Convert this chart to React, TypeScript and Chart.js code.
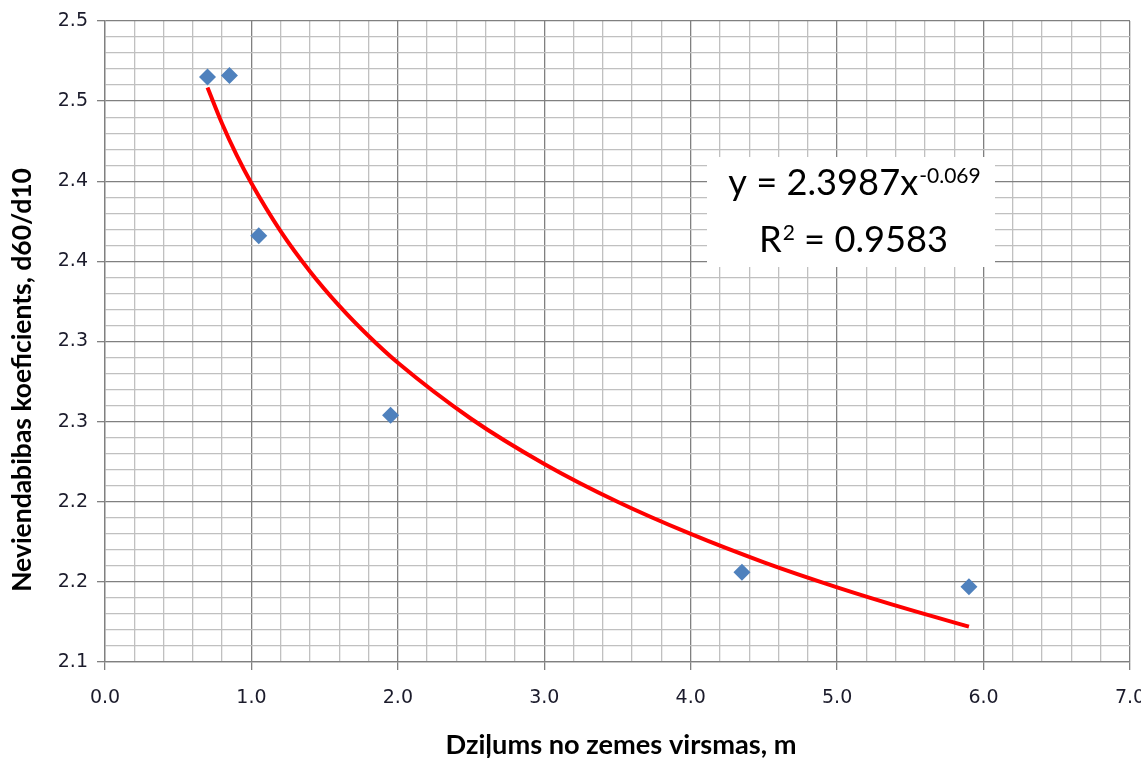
import React, { useEffect, useRef } from "react";
import { Chart, registerables } from "chart.js";

Chart.register(...registerables);

// Measured points (depth, m  ->  coefficient d60/d10)
const depthValues = [0.7, 0.85, 1.05, 1.95, 4.35, 5.9];
const coefValues = [2.465, 2.466, 2.366, 2.254, 2.156, 2.147];

// Power trendline
const trendX = [0.7, 0.8, 0.9, 1.0, 1.2, 1.4, 1.6, 1.8, 2.0, 2.5, 3.0, 3.5, 4.0, 4.5, 5.0, 5.5, 5.9];
const trendY = [2.4585, 2.4359, 2.4161, 2.3987, 2.3687, 2.3437, 2.3222, 2.3034, 2.2867, 2.2518, 2.2236, 2.2, 2.1799, 2.1622, 2.1466, 2.1325, 2.1221];

// Tick labels (major ticks only)
const xTickLabels = ["0.0", "1.0", "2.0", "3.0", "4.0", "5.0", "6.0", "7.0"];
const yTickLabels = ["2.1", "2.2", "2.2", "2.3", "2.3", "2.4", "2.4", "2.5", "2.5"];

const xTitle = "Dziļums no zemes virsmas, m";
const yTitle = "Neviendabibas koeficients, d60/d10";
const eqMain = "y = 2.3987x";
const eqExp = "-0.069";
const r2Base = "R";
const r2Exp = "2";
const r2Rest = " = 0.9583";

const X_MIN = 0, X_MAX = 7, X_MINOR = 0.2;
const Y_MIN = 2.1, Y_MAX = 2.5, Y_MINOR = 0.01;

const xGrid: number[] = [];
for (let i = 0; i <= Math.round((X_MAX - X_MIN) / X_MINOR); i++) xGrid.push(X_MIN + i * X_MINOR);
const yGrid: number[] = [];
for (let i = 0; i <= Math.round((Y_MAX - Y_MIN) / Y_MINOR); i++) yGrid.push(Y_MIN + i * Y_MINOR);

const MAJOR = "#808080";
const MINOR = "#c0c0c0";
const TICK_FONT = { family: "'DejaVu Sans', Verdana, sans-serif", size: 19 };
const TEXT = "#1b1b2b";

function fitSize(ctx: CanvasRenderingContext2D, text: string, fam: string, weight: string, target: number) {
  ctx.font = `${weight} 100px ${fam}`;
  const w = ctx.measureText(text).width;
  return (100 * target) / w;
}

const overlayPlugin = {
  id: "overlay",
  afterDraw(chart: any) {
    const ctx: CanvasRenderingContext2D = chart.ctx;
    ctx.save();
    const titleFam = "Lato, 'Open Sans', sans-serif";
    // X title
    const xs = fitSize(ctx, xTitle, titleFam, "bold", 351);
    ctx.font = `bold ${xs}px ${titleFam}`;
    ctx.fillStyle = "#000";
    ctx.textAlign = "center";
    ctx.textBaseline = "alphabetic";
    ctx.fillText(xTitle, 621, 754);
    // Y title
    const ys = fitSize(ctx, yTitle, titleFam, "bold", 424);
    ctx.font = `bold ${ys}px ${titleFam}`;
    ctx.save();
    ctx.translate(31, 380);
    ctx.rotate(-Math.PI / 2);
    ctx.fillText(yTitle, 0, 0);
    ctx.restore();

    // Equation box
    ctx.fillStyle = "#ffffff";
    ctx.fillRect(707, 157, 288, 110);
    const eqFam = "Lato, 'Open Sans', sans-serif";
    const s = fitSize(ctx, eqMain, eqFam, "normal", 190);
    const ss = s * 0.58;
    const cap = 0.72;
    ctx.textAlign = "left";
    ctx.fillStyle = "#000";
    ctx.font = `${s}px ${eqFam}`;
    const w1 = ctx.measureText(eqMain).width;
    ctx.font = `${ss}px ${eqFam}`;
    const w1e = ctx.measureText(eqExp).width;
    const x1 = 854 - (w1 + w1e) / 2;
    const b1 = 195;
    ctx.font = `${s}px ${eqFam}`;
    ctx.fillText(eqMain, x1, b1);
    ctx.font = `${ss}px ${eqFam}`;
    ctx.fillText(eqExp, x1 + w1 + 1, b1 - cap * s + cap * ss - 1);

    ctx.font = `${s}px ${eqFam}`;
    const wr = ctx.measureText(r2Base).width;
    const wrest = ctx.measureText(r2Rest).width;
    ctx.font = `${ss}px ${eqFam}`;
    const wre = ctx.measureText(r2Exp).width;
    const x2 = 853 - (wr + wre + wrest) / 2;
    const b2 = 252;
    ctx.font = `${s}px ${eqFam}`;
    ctx.fillText(r2Base, x2, b2);
    ctx.font = `${ss}px ${eqFam}`;
    ctx.fillText(r2Exp, x2 + wr + 1, b2 - cap * s + cap * ss - 1);
    ctx.font = `${s}px ${eqFam}`;
    ctx.fillText(r2Rest, x2 + wr + wre + 1, b2);
    ctx.restore();
  },
};

export default function App() {
  const ref = useRef<HTMLCanvasElement | null>(null);
  useEffect(() => {
    if (!ref.current) return;
    const chart = new Chart(ref.current, {
      type: "scatter",
      data: {
        datasets: [
          {
            label: "Trend",
            data: trendX.map((x, i) => ({ x, y: trendY[i] })),
            showLine: true,
            borderColor: "#ff0000",
            borderWidth: 4,
            pointRadius: 0,
            cubicInterpolationMode: "monotone",
            fill: false,
          },
          {
            label: "Data",
            data: depthValues.map((x, i) => ({ x, y: coefValues[i] })),
            showLine: false,
            pointStyle: "rectRot",
            pointRadius: 8.5,
            pointBackgroundColor: "#4f81bd",
            pointBorderColor: "#4f81bd",
            pointBorderWidth: 0,
          },
        ],
      },
      options: {
        responsive: false,
        animation: false,
        devicePixelRatio: 1,
        layout: { padding: { left: 0, right: 11, top: 21, bottom: 0 } },
        plugins: { legend: { display: false }, tooltip: { enabled: false } },
        scales: {
          x: {
            type: "linear",
            min: X_MIN,
            max: X_MAX,
            afterBuildTicks: (scale: any) => {
              scale.ticks = xGrid.map((v) => ({ value: v }));
            },
            afterFit: (scale: any) => {
              scale.height = 100;
              scale.paddingLeft = 0;
              scale.paddingRight = 0;
            },
            ticks: {
              autoSkip: false,
              maxRotation: 0,
              minRotation: 0,
              padding: 17,
              color: TEXT,
              font: TICK_FONT,
              callback: (_v: any, i: number) => (i % 5 === 0 ? xTickLabels[i / 5] : ""),
            },
            grid: {
              color: (c: any) => (c.index % 5 === 0 ? MAJOR : MINOR),
              tickColor: (c: any) => (c.index % 5 === 0 ? MAJOR : "rgba(0,0,0,0)"),
              tickLength: 8,
              lineWidth: 1.3,
            },
            border: { display: true, color: MAJOR, width: 1.3 },
          },
          y: {
            type: "linear",
            min: Y_MIN,
            max: Y_MAX,
            afterBuildTicks: (scale: any) => {
              scale.ticks = yGrid.map((v) => ({ value: v }));
            },
            afterFit: (scale: any) => {
              scale.width = 105;
              scale.paddingTop = 0;
              scale.paddingBottom = 0;
            },
            ticks: {
              autoSkip: false,
              padding: 9,
              color: TEXT,
              font: TICK_FONT,
              callback: (_v: any, i: number) => (i % 5 === 0 ? yTickLabels[i / 5] : ""),
            },
            grid: {
              color: (c: any) => (c.index % 5 === 0 ? MAJOR : MINOR),
              tickColor: (c: any) => (c.index % 5 === 0 ? MAJOR : "rgba(0,0,0,0)"),
              tickLength: 8,
              lineWidth: 1.3,
            },
            border: { display: true, color: MAJOR, width: 1.3 },
          },
        },
      },
      plugins: [overlayPlugin],
    } as any);
    return () => chart.destroy();
  }, []);

  return (
    <div style={{ position: "absolute", left: 0, top: 0, width: 1141, height: 762, background: "#fff" }}>
      <canvas ref={ref} width={1141} height={762} />
    </div>
  );
}
